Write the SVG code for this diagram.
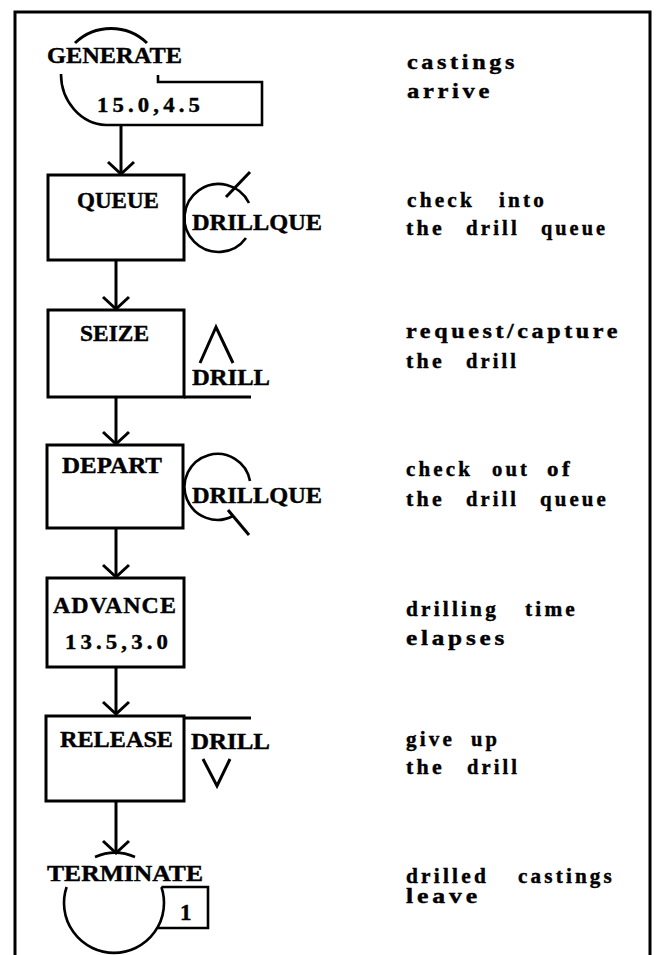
<svg xmlns="http://www.w3.org/2000/svg" width="656" height="955" viewBox="0 0 656 955">
<style>
.s{fill:none;stroke:#000;stroke-width:3;stroke-linejoin:miter}
.t{stroke-width:2.6}
.lb{font-family:"Liberation Serif","Times New Roman",serif;font-weight:bold;font-size:23px;fill:#000;stroke:#000;stroke-width:0.4}
.nm{font-family:"Liberation Serif","Times New Roman",serif;font-weight:bold;font-size:22px;letter-spacing:4px;fill:#000;stroke:#000;stroke-width:0.4}
.rt{font-family:"Liberation Serif","Times New Roman",serif;font-weight:bold;font-size:20px;letter-spacing:3px;fill:#000;stroke:#000;stroke-width:0.4}
</style>
<defs>
<marker id="ah" viewBox="-16 -16 32 32" markerWidth="32" markerHeight="32" refX="0" refY="0" orient="auto" markerUnits="userSpaceOnUse">
<path d="M -12 -13 L 0 0 L -12 13" fill="none" stroke="#000" stroke-width="3"/>
</marker>
</defs>
<rect width="656" height="955" fill="#fff"/>
<path id="frame" class="s" d="M 15 955 L 15 12 L 650 12 L 650 955"/>

<g id="generate">
<path class="s" d="M 75 43 A 52 52 0 0 1 147 43"/>
<path class="s t" d="M 61 74 A 47 51 0 0 0 106 125 L 262 125 L 262 82 L 158 82 L 158 75"/>
<text class="lb" x="47" y="63" textLength="135" lengthAdjust="spacingAndGlyphs">GENERATE</text>
<text class="nm" x="97" y="112" textLength="107" lengthAdjust="spacingAndGlyphs">15.0,4.5</text>
</g>

<g id="queue">
<rect class="s" x="48" y="175" width="136" height="85"/>
<text class="lb" x="77" y="208" textLength="82" lengthAdjust="spacingAndGlyphs">QUEUE</text>
<path class="s t" d="M 249 203 A 34 34 0 1 0 246 238"/>
<path class="s" d="M 250 172 L 226 197"/>
<text class="lb" x="192" y="230" textLength="130" lengthAdjust="spacingAndGlyphs">DRILLQUE</text>
</g>

<g id="seize">
<rect class="s" x="48" y="310" width="136" height="87"/>
<text class="lb" x="80" y="341" textLength="69" lengthAdjust="spacingAndGlyphs">SEIZE</text>
<path class="s" d="M 184 397 L 251 397"/>
<path class="s" d="M 200 363 L 216 327 L 233 363"/>
<text class="lb" x="192" y="385" textLength="78" lengthAdjust="spacingAndGlyphs">DRILL</text>
</g>

<g id="depart">
<rect class="s" x="47" y="445" width="136" height="83"/>
<text class="lb" x="62" y="473" textLength="100" lengthAdjust="spacingAndGlyphs">DEPART</text>
<path class="s t" d="M 250 481 A 33 33 0 1 0 233 516"/>
<path class="s" d="M 228 510 L 249 535"/>
<text class="lb" x="192" y="503" textLength="130" lengthAdjust="spacingAndGlyphs">DRILLQUE</text>
</g>

<g id="advance">
<rect class="s" x="47" y="578" width="137" height="89"/>
<text class="lb" x="53" y="613" textLength="124" lengthAdjust="spacingAndGlyphs" letter-spacing="1">ADVANCE</text>
<text class="nm" x="65" y="649" textLength="107" lengthAdjust="spacingAndGlyphs">13.5,3.0</text>
</g>

<g id="release">
<rect class="s" x="46" y="716" width="138" height="85"/>
<path class="s" d="M 184 718 L 251 718"/>
<text class="lb" x="60" y="747" textLength="113" lengthAdjust="spacingAndGlyphs">RELEASE</text>
<text class="lb" x="191" y="749" textLength="79" lengthAdjust="spacingAndGlyphs">DRILL</text>
<path class="s" d="M 203 759 L 217 786 L 230 759"/>
</g>

<g id="terminate">
<path class="s t" d="M 95 857 A 50 50 0 0 1 135 857"/>
<path class="s t" d="M 66.6 887 A 50 50 0 1 0 161.4 887"/>
<path class="s t" d="M 161.4 887 L 208 887 L 208 928 L 158 928"/>
<text class="lb" x="47" y="881" textLength="156" lengthAdjust="spacingAndGlyphs">TERMINATE</text>
<text class="lb" x="180" y="920" font-size="19">1</text>
</g>

<g id="connectors">
<path class="s" d="M 121 125 L 121 174" marker-end="url(#ah)"/>
<path class="s" d="M 116 260 L 116 309" marker-end="url(#ah)"/>
<path class="s" d="M 116 397 L 116 444" marker-end="url(#ah)"/>
<path class="s" d="M 116 528 L 116 577" marker-end="url(#ah)"/>
<path class="s" d="M 116 667 L 116 714" marker-end="url(#ah)"/>
<path class="s" d="M 116 801 L 116 853" marker-end="url(#ah)"/>
</g>

<g id="notes">
<text class="rt" y="69"><tspan x="407" textLength="111" lengthAdjust="spacingAndGlyphs">castings</tspan></text>
<text class="rt" y="98"><tspan x="407" textLength="86" lengthAdjust="spacingAndGlyphs">arrive</tspan></text>
<text class="rt" y="207"><tspan x="407" textLength="68" lengthAdjust="spacingAndGlyphs">check</tspan><tspan x="499" textLength="48" lengthAdjust="spacingAndGlyphs">into</tspan></text>
<text class="rt" y="235"><tspan x="406" textLength="39" lengthAdjust="spacingAndGlyphs">the</tspan><tspan x="466" textLength="54" lengthAdjust="spacingAndGlyphs">drill</tspan><tspan x="541" textLength="67" lengthAdjust="spacingAndGlyphs">queue</tspan></text>
<text class="rt" y="338"><tspan x="406" textLength="215" lengthAdjust="spacingAndGlyphs">request/capture</tspan></text>
<text class="rt" y="368"><tspan x="406" textLength="39" lengthAdjust="spacingAndGlyphs">the</tspan><tspan x="466" textLength="53" lengthAdjust="spacingAndGlyphs">drill</tspan></text>
<text class="rt" y="476"><tspan x="406" textLength="67" lengthAdjust="spacingAndGlyphs">check</tspan><tspan x="492" textLength="38" lengthAdjust="spacingAndGlyphs">out</tspan><tspan x="547" textLength="26" lengthAdjust="spacingAndGlyphs">of</tspan></text>
<text class="rt" y="506"><tspan x="406" textLength="39" lengthAdjust="spacingAndGlyphs">the</tspan><tspan x="466" textLength="53" lengthAdjust="spacingAndGlyphs">drill</tspan><tspan x="540" textLength="69" lengthAdjust="spacingAndGlyphs">queue</tspan></text>
<text class="rt" y="616"><tspan x="406" textLength="93" lengthAdjust="spacingAndGlyphs">drilling</tspan><tspan x="525" textLength="53" lengthAdjust="spacingAndGlyphs">time</tspan></text>
<text class="rt" y="645"><tspan x="406" textLength="102" lengthAdjust="spacingAndGlyphs">elapses</tspan></text>
<text class="rt" y="746"><tspan x="406" textLength="49" lengthAdjust="spacingAndGlyphs">give</tspan><tspan x="471" textLength="29" lengthAdjust="spacingAndGlyphs">up</tspan></text>
<text class="rt" y="774"><tspan x="406" textLength="39" lengthAdjust="spacingAndGlyphs">the</tspan><tspan x="467" textLength="53" lengthAdjust="spacingAndGlyphs">drill</tspan></text>
<text class="rt" y="883"><tspan x="406" textLength="83" lengthAdjust="spacingAndGlyphs">drilled</tspan><tspan x="518" textLength="97" lengthAdjust="spacingAndGlyphs">castings</tspan></text>
<text class="rt" y="903"><tspan x="406" textLength="75" lengthAdjust="spacingAndGlyphs">leave</tspan></text>
</g>
</svg>
